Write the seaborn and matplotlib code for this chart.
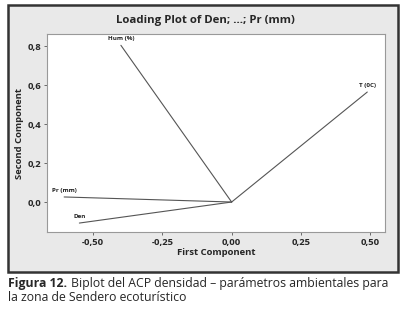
import pandas as pd
import seaborn as sns
import matplotlib.pyplot as plt
from matplotlib.patches import Rectangle
from matplotlib.ticker import FuncFormatter

variables = ['Hum (%)', 'T (0C)', 'Pr (mm)', 'Den']
pc1 = [-0.40, 0.49, -0.605, -0.55]
pc2 = [0.805, 0.565, 0.026, -0.108]

xticks = [-0.50, -0.25, 0.00, 0.25, 0.50]
yticks = [0.0, 0.2, 0.4, 0.6, 0.8]

# segments from origin to each loading
rows = []
for v, a, b in zip(variables, pc1, pc2):
    rows.append({'var': v, 'pc1': 0.0, 'pc2': 0.0, 'step': 0})
    rows.append({'var': v, 'pc1': a, 'pc2': b, 'step': 1})
df = pd.DataFrame(rows)

sns.set_style('white')
plt.rcParams['font.family'] = ['Open Sans', 'DejaVu Sans']

fig = plt.figure(figsize=(4.1, 3.1), dpi=100)

# gray outer panel with dark border
fig.patches.append(Rectangle((0.02, 0.123), 0.951, 0.861, transform=fig.transFigure,
                             facecolor='#e9e9e9', edgecolor='#333333', lw=1.8, zorder=-5))

ax = fig.add_axes([0.1146, 0.2516, 0.8244, 0.638])
ax.set_zorder(2)
sns.lineplot(data=df, x='pc1', y='pc2', units='var', estimator=None, sort=False,
             color='#555555', lw=0.8, ax=ax, legend=False)

for v, a, b in zip(variables, pc1, pc2):
    ax.text(a, b + 0.02, v, fontsize=4.5, fontweight='bold', ha='center', va='bottom', color='#222222')

ax.set_xlim(-0.667, 0.554)
ax.set_ylim(-0.154, 0.862)
ax.set_xticks(xticks)
ax.set_yticks(yticks)
ax.xaxis.set_major_formatter(FuncFormatter(lambda v, p: f'{v:.2f}'.replace('.', ',')))
ax.yaxis.set_major_formatter(FuncFormatter(lambda v, p: f'{v:.1f}'.replace('.', ',')))
ax.tick_params(axis='both', labelsize=6.8, length=2.5, width=0.6, color='#555555', pad=1.5,
               bottom=True, left=True)
for t in ax.get_xticklabels() + ax.get_yticklabels():
    t.set_fontweight('bold')
for s in ax.spines.values():
    s.set_color('#999999')
    s.set_linewidth(0.8)

ax.set_xlabel('First Component', fontsize=6.8, fontweight='bold', labelpad=1)
ax.set_ylabel('Second Component', fontsize=6.8, fontweight='bold', labelpad=3)

fig.text(0.5, 0.935, 'Loading Plot of Den; ...; Pr (mm)', fontsize=8.2, fontweight='bold',
         ha='center', va='center')

# caption: bold lead-in, then the rest right after it
lead = fig.text(0.02, 0.087, 'Figura 12.', fontsize=8.8, fontweight='bold', va='center')
fig.canvas.draw()
bb = lead.get_window_extent().transformed(fig.transFigure.inverted())
fig.text(bb.x1 + 0.008, 0.087, 'Biplot del ACP densidad – parámetros ambientales para',
         fontsize=8.8, va='center')
fig.text(0.02, 0.040, 'la zona de Sendero ecoturístico', fontsize=8.8, va='center')

fig.savefig('out.png', dpi=100)
